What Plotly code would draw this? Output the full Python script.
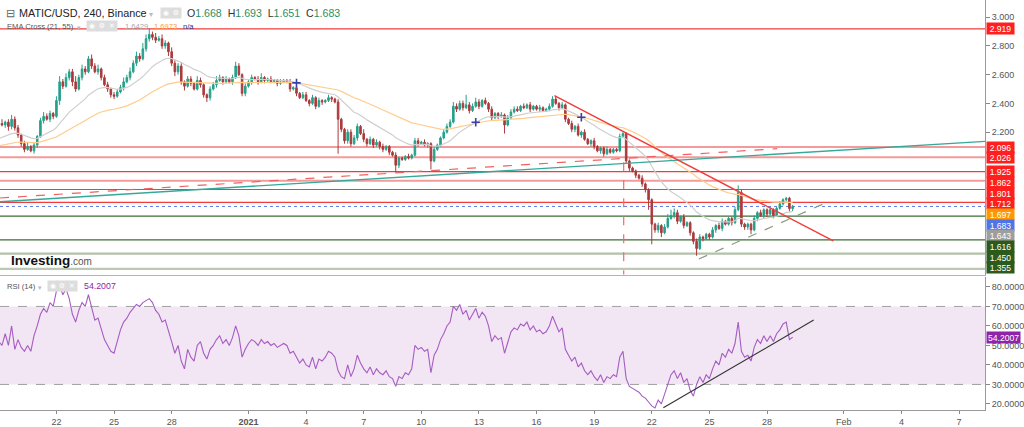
import pandas as pd
import plotly.graph_objects as go

# ------------------------------------------------------------------ data
start_time = "2020-12-19 00:00"          # first 4h candle
first_open = 2.25
closes = [
    2.26, 2.25, 2.27, 2.24, 2.29, 2.23,   # Dec 19
    2.18, 2.12, 2.08, 2.10, 2.07, 2.11,   # Dec 20
    2.17, 2.28, 2.31, 2.29, 2.33, 2.31,   # Dec 21
    2.42, 2.55, 2.52, 2.58, 2.62, 2.55,   # Dec 22
    2.50, 2.58, 2.64, 2.62, 2.71, 2.66,   # Dec 23
    2.62, 2.64, 2.58, 2.53, 2.50, 2.46,   # Dec 24
    2.45, 2.48, 2.51, 2.55, 2.58, 2.62,   # Dec 25
    2.68, 2.73, 2.71, 2.78, 2.85, 2.88,   # Dec 26
    2.86, 2.84, 2.85, 2.80, 2.82, 2.76,   # Dec 27
    2.68, 2.62, 2.66, 2.55, 2.52, 2.57,   # Dec 28
    2.54, 2.50, 2.56, 2.53, 2.46, 2.44,   # Dec 29
    2.50, 2.53, 2.56, 2.58, 2.55, 2.57,   # Dec 30
    2.55, 2.58, 2.66, 2.60, 2.47, 2.52,   # Dec 31
    2.55, 2.58, 2.57, 2.55, 2.58, 2.56,   # Jan 1
    2.57, 2.55, 2.56, 2.54, 2.55, 2.56,   # Jan 2
    2.55, 2.50, 2.51, 2.47, 2.44, 2.46,   # Jan 3
    2.42, 2.40, 2.44, 2.38, 2.42, 2.41,   # Jan 4
    2.42, 2.44, 2.43, 2.41, 2.29, 2.22,   # Jan 5
    2.14, 2.20, 2.12, 2.16, 2.24, 2.19,   # Jan 6
    2.15, 2.12, 2.15, 2.11, 2.13, 2.10,   # Jan 7
    2.08, 2.10, 2.06, 2.04, 1.97, 2.02,   # Jan 8
    2.01, 2.03, 2.02, 2.04, 2.14, 2.12,   # Jan 9
    2.13, 2.11, 2.12, 2.00, 2.08, 2.11,   # Jan 10
    2.16, 2.20, 2.24, 2.27, 2.38, 2.36,   # Jan 11
    2.40, 2.37, 2.39, 2.35, 2.38, 2.41,   # Jan 12
    2.38, 2.42, 2.40, 2.36, 2.30, 2.33,   # Jan 13
    2.31, 2.32, 2.25, 2.30, 2.34, 2.36,   # Jan 14
    2.35, 2.38, 2.37, 2.39, 2.36, 2.38,   # Jan 15
    2.36, 2.37, 2.35, 2.36, 2.38, 2.43,   # Jan 16
    2.40, 2.37, 2.39, 2.29, 2.26, 2.22,   # Jan 17
    2.24, 2.18, 2.20, 2.15, 2.12, 2.14,   # Jan 18
    2.10, 2.07, 2.09, 2.05, 2.08, 2.06,   # Jan 19
    2.08, 2.07, 2.17, 2.19, 2.00, 1.95,   # Jan 20
    1.93, 1.90, 1.88, 1.84, 1.80, 1.73,   # Jan 21
    1.56, 1.52, 1.55, 1.50, 1.54, 1.60,   # Jan 22
    1.62, 1.64, 1.58, 1.61, 1.55, 1.57,   # Jan 23
    1.50, 1.44, 1.39, 1.47, 1.46, 1.49,   # Jan 24
    1.47, 1.52, 1.55, 1.53, 1.58, 1.56,   # Jan 25
    1.60, 1.57, 1.66, 1.78, 1.56, 1.54,   # Jan 26
    1.56, 1.52, 1.60, 1.64, 1.62, 1.66,   # Jan 27
    1.63, 1.66, 1.62, 1.67, 1.70, 1.73,   # Jan 28
    1.74, 1.668, 1.683,                   # Jan 29
]
# upper / lower wick lengths (hundredths)
wick_up = [
    2, 3, 1, 2, 3, 2,  2, 1, 2, 3, 1, 2,  1, 2, 3, 2, 2, 1,  3, 4, 2, 3, 2, 2,
    4, 2, 3, 2, 2, 3,  2, 3, 1, 2, 2, 1,  2, 2, 2, 3, 2, 3,  2, 3, 2, 4, 3, 4,
    2, 3, 2, 3, 2, 1,  3, 2, 2, 2, 1, 2,  2, 1, 3, 2, 1, 1,  2, 2, 3, 2, 1, 2,
    1, 2, 3, 2, 1, 2,  2, 2, 1, 2, 3, 1,  1, 2, 1, 1, 2, 1,  1, 2, 1, 1, 1, 2,
    2, 1, 2, 1, 2, 1,  1, 2, 1, 1, 2, 1,  1, 2, 2, 2, 2, 1,  3, 1, 2, 1, 2, 1,
    2, 1, 1, 1, 2, 1,  1, 1, 2, 1, 2, 2,  1, 2, 1, 1, 2, 1,  1, 2, 2, 2, 3, 2,
    2, 2, 7, 2, 2, 3,  2, 1, 2, 1, 2, 1,  1, 2, 1, 2, 2, 2,  2, 1, 2, 1, 2, 1,
    1, 2, 1, 1, 2, 2,  2, 1, 2, 1, 1, 2,  1, 2, 1, 2, 1, 1,  2, 1, 1, 1, 2, 1,
    1, 1, 2, 1, 1, 1,  1, 1, 1, 2, 1, 1,  1, 1, 2, 1, 2, 3,  4, 3, 2, 1, 2, 1,
    1, 1, 2, 2, 1, 1,  1, 2, 1, 2, 2, 1,  1, 1, 2, 5, 2, 1,  1, 1, 2, 1, 2, 1,
    1, 2, 1, 1, 2, 1,  1.0, 1, 1.0,
]
wick_dn = [
    2, 1, 2, 3, 2, 2,  2, 2, 2, 1, 1, 2,  2, 1, 2, 1, 2, 2,  1, 3, 2, 1, 2, 3,
    2, 1, 2, 2, 1, 2,  1, 2, 2, 1, 2, 2,  2, 1, 1, 2, 1, 2,  1, 2, 2, 1, 2, 2,
    2, 2, 1, 2, 2, 3,  2, 3, 2, 2, 3, 1,  2, 1, 1, 2, 2, 3,  2, 1, 2, 1, 2, 1,
    1, 2, 1, 1, 2, 2,  1, 2, 1, 2, 1, 2,  1, 1, 1, 2, 1, 1,  1, 2, 1, 2, 1, 1,
    1, 2, 1, 2, 1, 2,  1, 1, 2, 1, 24, 2, 2, 2, 2, 1, 2, 1,  2, 2, 1, 2, 1, 2,
    2, 1, 2, 1, 5, 2,  1, 1, 1, 1, 1, 2,  1, 1, 2, 6, 1, 1,  1, 1, 1, 1, 1, 2,
    1, 2, 1, 2, 1, 1,  2, 1, 1, 2, 2, 1,  2, 1, 6, 1, 1, 1,  1, 1, 1, 1, 2, 1,
    1, 2, 1, 1, 1, 1,  1, 2, 1, 2, 1, 2,  2, 1, 2, 1, 1, 2,  2, 1, 2, 2, 1, 1,
    1, 1, 1, 1, 2, 2,  1, 2, 1, 2, 2, 7,  14, 2, 2, 3, 1, 1,  1, 2, 2, 1, 2, 1,
    2, 2, 5, 1, 2, 1,  2, 1, 2, 1, 2, 1,  1, 2, 1, 1, 2, 2,  2, 3, 1, 2, 1, 2,
    2, 1, 2, 1, 1, 1,  1, 2, 1.7,
]
rsi_values = [
    52, 50, 56, 50, 60, 48,   53, 49, 47, 50, 47, 55,   60, 66, 69, 67, 72, 70,
    78, 81, 76, 79, 74, 66,   62, 68, 72, 70, 76, 70,   63, 64, 58, 53, 50, 47,
    46, 52, 58, 62, 64, 67,   69, 71, 70, 72, 73, 74,   72, 68, 66, 62, 63, 58,
    52, 46, 50, 42, 38, 48,   44, 42, 50, 52, 46, 43,   48, 50, 53, 55, 51, 53,
    50, 54, 60, 55, 44, 48,   51, 53, 52, 50, 53, 51,   52, 50, 51, 49, 50, 51,
    50, 46, 47, 44, 41, 43,   40, 39, 44, 38, 43, 42,   44, 47, 46, 44, 37, 34,
    33, 40, 34, 38, 45, 41,   38, 36, 39, 35, 38, 36,   35, 37, 34, 33, 29, 34,
    33, 36, 35, 38, 50, 48,   49, 47, 48, 36, 45, 48,   53, 56, 60, 62, 70, 68,
    71, 66, 68, 63, 66, 69,   64, 67, 65, 60, 52, 55,   53, 54, 46, 52, 57, 59,
    58, 61, 60, 62, 58, 60,   57, 58, 56, 57, 60, 65,   61, 57, 59, 48, 45, 42,
    44, 39, 41, 37, 35, 37,   34, 32, 35, 31, 34, 33,   35, 34, 44, 47, 33, 29,
    28, 27, 26, 24, 23, 21,   19, 18, 22, 20, 25, 31,   35, 37, 33, 36, 31, 33,
    27, 24, 30, 34, 31, 35,   33, 38, 42, 40, 46, 44,   48, 46, 51, 62, 47, 44,
    45, 42, 49, 53, 51, 55,   52, 55, 52, 56, 58, 61,   62, 53, 54.2007,
]
ema_seed = [2.145, 2.099]            # EMA21 / EMA55 level at chart start
ema_cross_values = [1.6429, 1.6973]  # legend values (EMA21, EMA55)
ohlc_last = [1.668, 1.693, 1.651, 1.683]

resistance_levels = [2.919, 2.096, 2.026, 1.925, 1.862, 1.801, 1.712]
support_levels = [1.616, 1.450, 1.355, 1.248]

teal_line_t = ["2020-12-19 01:30", "2021-02-08 08:30"]
teal_line_p = [1.716, 2.136]
red_dash_t = ["2020-12-19 01:30", "2021-01-28 12:40"]
red_dash_p = [1.742, 2.085]
red_down_t = ["2021-01-16 22:20", "2021-01-31 10:50"]
red_down_p = [2.454, 1.443]
red_vert_t = ["2021-01-20 12:55", "2021-01-20 12:55"]
red_vert_p = [1.99, 1.21]
support_t = ["2021-01-24 10:50", "2021-01-31 04:35"]
support_p = [1.317, 1.716]
rsi_trend_t = ["2021-01-22 14:25", "2021-01-30 10:20"]
rsi_trend_v = [18.0, 63.0]

tick_dates = ["2020-12-22", "2020-12-25", "2020-12-28", "2021-01-01", "2021-01-04",
              "2021-01-07", "2021-01-10", "2021-01-13", "2021-01-16", "2021-01-19",
              "2021-01-22", "2021-01-25", "2021-01-28", "2021-02-01", "2021-02-04",
              "2021-02-07"]
tick_labels = ["22", "25", "28", "<b>2021</b>", "4", "7", "10", "13", "16", "19",
               "22", "25", "28", "Feb", "4", "7"]
price_ticks = [2.2, 2.4, 2.6, 2.8, 3.0]
rsi_ticks = [20, 30, 40, 50, 60, 70, 80]

# ------------------------------------------------------------------ derived
times = pd.date_range(start_time, periods=len(closes), freq="4h")
opens = [first_open] + closes[:-1]
highs = [max(o, c) + u / 100 for o, c, u in zip(opens, closes, wick_up)]
lows = [min(o, c) - d / 100 for o, c, d in zip(opens, closes, wick_dn)]


def ema(vals, n, seed):
    a = 2.0 / (n + 1)
    e, out = seed, []
    for v in vals:
        e = e + a * (v - e)
        out.append(e)
    return out


ema21 = ema(closes, 21, ema_seed[0])
ema55 = ema(closes, 55, ema_seed[1])
cross_t, cross_p = [], []
for i in range(1, len(closes)):
    if (ema21[i] - ema55[i]) * (ema21[i - 1] - ema55[i - 1]) < 0:
        cross_t.append(times[i])
        cross_p.append(ema21[i])

# ------------------------------------------------------------------ layout geometry
W, H = 1024, 427
M_R, M_B = 29, 17
PW, PH = W - M_R, H - M_B
main_dom = [1 - 275 / PH, 1.0]
rsi_dom = [0.0, 1 - 277 / PH]
y_lo, y_hi = 1.206, 3.1197
r_lo, r_hi = 16.9, 85.1
ref = pd.Timestamp("2020-12-22")
day_px = 19.4
x_left = ref - pd.Timedelta(days=57 / day_px)
x_right = ref + pd.Timedelta(days=(PW - 57) / day_px)

FONT = "Liberation Sans, Arial, sans-serif"
UP, DOWN = "#26a08a", "#ab3a3c"

fig = go.Figure()
fig.add_trace(go.Candlestick(
    x=times, open=opens, high=highs, low=lows, close=closes,
    increasing=dict(line=dict(color=UP, width=1), fillcolor=UP),
    decreasing=dict(line=dict(color=DOWN, width=1), fillcolor=DOWN),
    whiskerwidth=0, xaxis="x", yaxis="y", hoverinfo="skip"))
fig.add_trace(go.Scatter(x=times, y=ema55, mode="lines",
                         line=dict(color="#ffcc8a", width=1.2), xaxis="x", yaxis="y"))
fig.add_trace(go.Scatter(x=times, y=ema21, mode="lines",
                         line=dict(color="#cfcfcf", width=1.2), xaxis="x", yaxis="y"))
fig.add_trace(go.Scatter(x=cross_t, y=cross_p, mode="markers",
                         marker=dict(symbol="cross-thin", size=6, line=dict(color="#3a3fa8", width=1.6)),
                         xaxis="x", yaxis="y"))
fig.add_trace(go.Scatter(x=teal_line_t, y=teal_line_p, mode="lines",
                         line=dict(color="#35a89a", width=1.4), xaxis="x", yaxis="y"))
fig.add_trace(go.Scatter(x=red_dash_t, y=red_dash_p, mode="lines",
                         line=dict(color="#f06060", width=1.2, dash="dash"), xaxis="x", yaxis="y"))
fig.add_trace(go.Scatter(x=red_down_t, y=red_down_p, mode="lines",
                         line=dict(color="#f03c3c", width=1.4), xaxis="x", yaxis="y"))
fig.add_trace(go.Scatter(x=red_vert_t, y=red_vert_p, mode="lines",
                         line=dict(color="#f06a6a", width=1.2, dash="dash"), xaxis="x", yaxis="y"))
fig.add_trace(go.Scatter(x=support_t, y=support_p, mode="lines",
                         line=dict(color="#8a9a82", width=1.2, dash="dash"), xaxis="x", yaxis="y"))
fig.add_trace(go.Scatter(x=times, y=rsi_values, mode="lines",
                         line=dict(color="#a65cc2", width=1.1), xaxis="x2", yaxis="y2"))
fig.add_trace(go.Scatter(x=rsi_trend_t, y=rsi_trend_v, mode="lines",
                         line=dict(color="#333333", width=1.1), xaxis="x2", yaxis="y2"))

shapes = []
res_style = {2.919: ("#f23b3b", 1.2), 2.096: ("#f59a9a", 2), 2.026: ("#f59a9a", 2),
             1.925: ("#f23b3b", 1.2), 1.862: ("#f59a9a", 2), 1.801: ("#f23b3b", 1.2),
             1.712: ("#f23b3b", 1.2)}
sup_style = {1.616: ("#3d6e35", 1.2), 1.450: ("#3d6e35", 1.2),
             1.355: ("#b2c2a8", 2.2), 1.248: ("#bccab3", 2.2)}
for lv in resistance_levels:
    c, w = res_style[lv]
    shapes.append(dict(type="line", xref="paper", x0=0, x1=1, yref="y", y0=lv, y1=lv,
                       line=dict(color=c, width=w), layer="below"))
for lv in support_levels:
    c, w = sup_style[lv]
    shapes.append(dict(type="line", xref="paper", x0=0, x1=1, yref="y", y0=lv, y1=lv,
                       line=dict(color=c, width=w), layer="below"))
shapes.append(dict(type="line", xref="paper", x0=0, x1=1, yref="y",
                   y0=ohlc_last[3], y1=ohlc_last[3],
                   line=dict(color="#5b7be8", width=1, dash="dot"), layer="below"))
shapes.append(dict(type="rect", xref="paper", x0=0, x1=1, yref="y2", y0=30, y1=70,
                   fillcolor="#f2e5f4", line=dict(width=0), layer="below"))
for v in (30, 70):
    shapes.append(dict(type="line", xref="paper", x0=0, x1=1, yref="y2", y0=v, y1=v,
                       line=dict(color="#a0a0a0", width=1, dash="dash"), layer="below"))

ann = []


def px(x):
    return x / PW


def py(y):
    return 1 - y / PH


def txt(x, y, s, size=10, color="#333", **kw):
    ann.append(dict(x=px(x), y=py(y), xref="paper", yref="paper", text=s, showarrow=False,
                    xanchor="left", yanchor="middle", font=dict(family=FONT, size=size, color=color), **kw))


def icon(x, y, glyph):
    ann.append(dict(x=px(x), y=py(y), xref="paper", yref="paper", text=glyph, showarrow=False,
                    xanchor="left", yanchor="middle", width=8, height=8, bgcolor="#dddddd",
                    font=dict(family="DejaVu Sans", size=7, color="white")))


GREEN_TXT = "#2b8f66"
txt(4, 13, "⊟", 11, "#666")
txt(17, 13, "MATIC/USD, 240, Binance", 10.8, "#222")
txt(148, 14, "▾", 8, "#bbb")
icon(162, 13, "◉")
icon(172, 13, "⚙")
o, h, l, c = ohlc_last
txt(187, 13, (f"O<span style='color:{GREEN_TXT}'>{o:.3f}</span>  "
              f"H<span style='color:{GREEN_TXT}'>{h:.3f}</span>  "
              f"L<span style='color:{GREEN_TXT}'>{l:.3f}</span>  "
              f"C<span style='color:{GREEN_TXT}'>{c:.3f}</span>"), 10.6, "#333")
txt(5, 26, "EMA Cross (21, 55)", 7.6, "#555")
txt(76, 27, "▾", 7, "#bbb")
icon(87, 26, "◉")
icon(97, 26, "⚙")
icon(107, 26, "✕")
txt(124, 26, f"{ema_cross_values[0]:.4f}", 7.6, "#a8a8a8")
txt(154, 26, f"{ema_cross_values[1]:.4f}", 7.6, "#ff9e2c")
txt(183, 26, "n/a", 7.6, "#2a2e96")
txt(5, 286, "RSI (14)", 7.6, "#555")
txt(36, 287, "▾", 7, "#bbb")
icon(47, 286, "◉")
icon(57, 286, "⚙")
icon(67, 286, "✕")
txt(83, 286, f"{rsi_values[-1]:.4f}", 8.8, "#8e24aa")
txt(9, 260, "<b>Investing</b><span style='color:#555;font-size:10px'>.com</span>", 13.5, "#111")

# price labels on the right axis, stacked like the original
labels = [(lv, "#ff1f1f") for lv in resistance_levels]
labels += [(round(ema_cross_values[1], 3), "#ff9800"), (ohlc_last[3], "#4f74e6"),
           (round(ema_cross_values[0], 3), "#9e9e9e")]
labels += [(lv, "#2c5a1c") for lv in support_levels[:3]]
pane_px = PH * (main_dom[1] - main_dom[0])
ppu = pane_px / (y_hi - y_lo)
prev = -1e9
for val, col in sorted(labels, key=lambda t: -t[0]):
    nat = (y_hi - val) * ppu
    pos = max(nat, prev + 10.7)
    prev = pos
    ann.append(dict(x=1, xref="paper", xanchor="left", xshift=1, y=val, yref="y",
                    yshift=-(pos - nat), yanchor="middle", text=f"{val:.3f}", showarrow=False,
                    bgcolor=col, width=25, height=9, borderpad=1,
                    font=dict(family=FONT, size=8.6, color="white")))
ann.append(dict(x=1, xref="paper", xanchor="left", xshift=1, y=rsi_values[-1], yref="y2",
                yanchor="middle", text=f"{rsi_values[-1]:.4f}", showarrow=False,
                bgcolor="#8e24aa", height=9, borderpad=1,
                font=dict(family=FONT, size=8.6, color="white")))

axis_font = dict(family=FONT, size=9, color="#555")
fig.update_layout(
    width=W, height=H, margin=dict(l=0, r=M_R, t=0, b=M_B),
    paper_bgcolor="white", plot_bgcolor="white", showlegend=False, hovermode=False,
    shapes=shapes, annotations=ann,
    xaxis=dict(domain=[0, 1], anchor="y", type="date", range=[x_left, x_right],
               rangeslider=dict(visible=False), showticklabels=False, showgrid=False,
               zeroline=False, showline=True, linecolor="#b5b5b5", linewidth=1, ticks=""),
    xaxis2=dict(domain=[0, 1], anchor="y2", type="date", matches="x", range=[x_left, x_right],
                tickmode="array", tickvals=tick_dates, ticktext=tick_labels, ticks="outside",
                ticklen=3, tickcolor="#888", tickfont=axis_font, showgrid=False, zeroline=False,
                showline=True, linecolor="#9a9a9a", linewidth=1),
    yaxis=dict(domain=main_dom, anchor="x", side="right", range=[y_lo, y_hi],
               tickmode="array", tickvals=price_ticks, ticktext=[f"{v:.3f}" for v in price_ticks],
               ticks="outside", ticklen=4, tickcolor="#888", tickfont=axis_font,
               showgrid=False, zeroline=False, showline=True, linecolor="#9a9a9a", linewidth=1),
    yaxis2=dict(domain=rsi_dom, anchor="x2", side="right", range=[r_lo, r_hi],
                tickmode="array", tickvals=rsi_ticks, ticktext=[f"{v:.4f}" for v in rsi_ticks],
                ticks="outside", ticklen=4, tickcolor="#888", tickfont=axis_font,
                showgrid=False, zeroline=False, showline=True, linecolor="#9a9a9a", linewidth=1),
)

fig.write_html("out.html", config={"displayModeBar": False},
               post_script="document.body.style.margin='0';document.body.style.overflow='hidden';")
